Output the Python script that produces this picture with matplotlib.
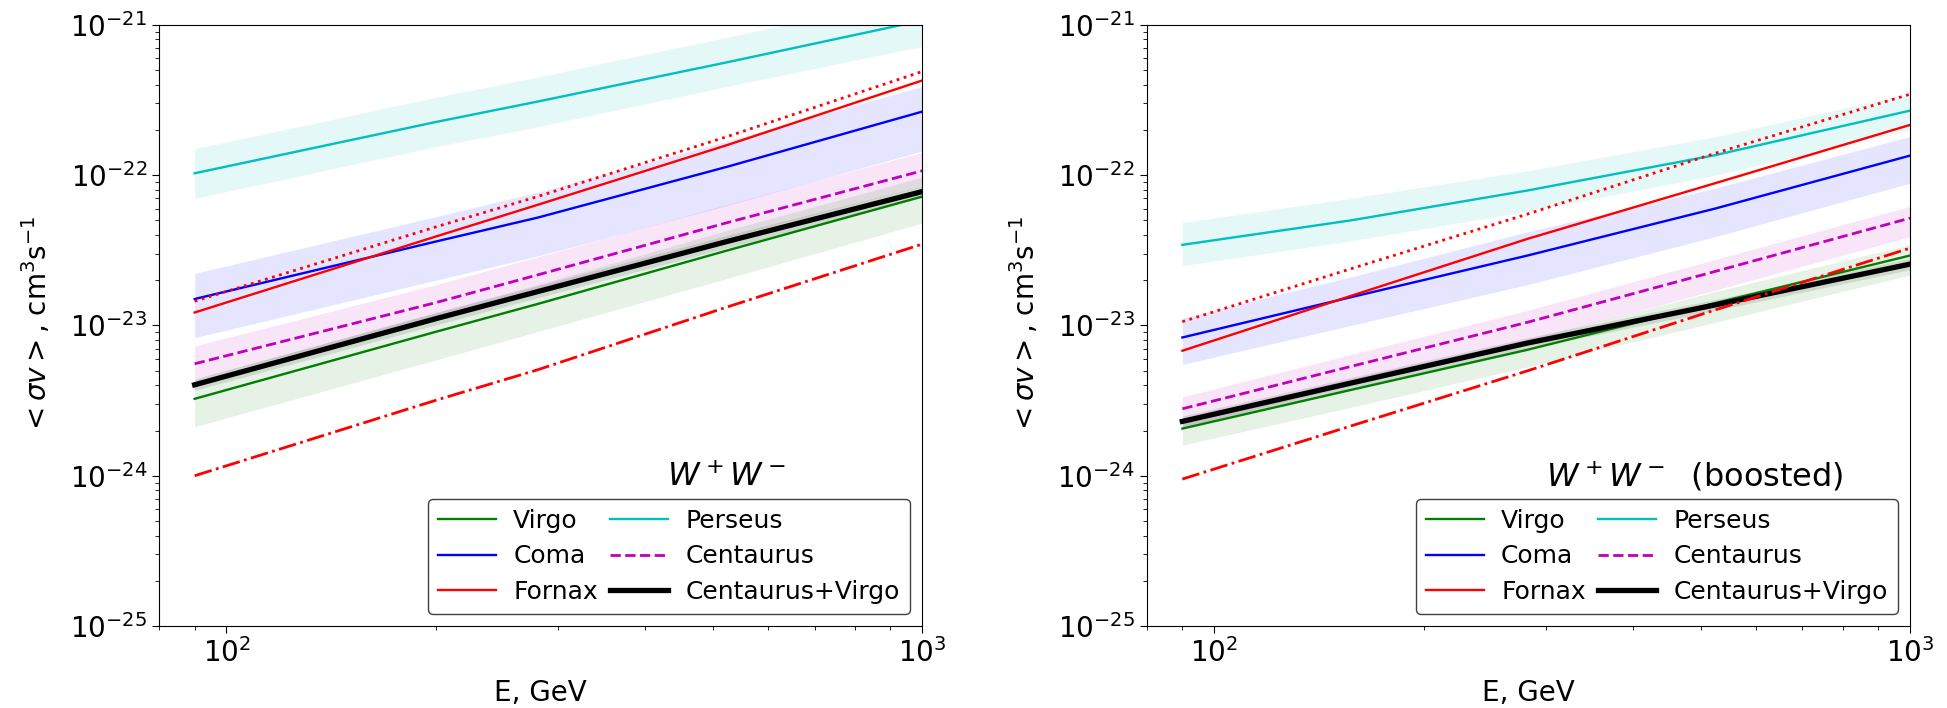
import matplotlib
matplotlib.use('Agg')
import matplotlib.pyplot as plt
from matplotlib.ticker import NullFormatter

# ---- left panel: W+W- ----
E_left = [90, 200, 280, 525, 1000]
perseus_l = [1.03e-22, 2.26e-22, 3.09e-22, 5.65e-22, 1.07e-21]
perseus_l_lo = [7.0e-23, 1.55e-22, 2.1e-22, 3.9e-22, 7.2e-22]
perseus_l_hi = [1.5e-22, 3.3e-22, 4.5e-22, 8.3e-22, 1.55e-21]
coma_l = [1.50e-23, 3.62e-23, 5.22e-23, 1.14e-22, 2.65e-22]
coma_l_lo = [8.3e-24, 2.0e-23, 2.9e-23, 6.3e-23, 1.45e-22]
coma_l_hi = [2.22e-23, 5.3e-23, 7.7e-23, 1.69e-22, 3.9e-22]
fornax_l = [1.22e-23, 3.91e-23, 6.35e-23, 1.59e-22, 4.27e-22]
fornax_dot_l = [1.45e-23, 4.53e-23, 7.21e-23, 1.81e-22, 4.9e-22]
fornax_dd_l = [1.0e-24, 3.18e-24, 5.07e-24, 1.33e-23, 3.48e-23]
cent_l = [5.56e-24, 1.42e-23, 2.17e-23, 4.84e-23, 1.07e-22]
cent_l_lo = [4.4e-24, 1.13e-23, 1.72e-23, 3.85e-23, 8.5e-23]
cent_l_hi = [7.3e-24, 1.87e-23, 2.86e-23, 6.4e-23, 1.42e-22]
virgo_l = [3.25e-24, 9.08e-24, 1.39e-23, 3.16e-23, 7.21e-23]
virgo_l_lo = [2.12e-24, 5.9e-24, 9.1e-24, 2.06e-23, 4.8e-23]
virgo_l_hi = [4.4e-24, 1.22e-23, 1.87e-23, 4.3e-23, 9.7e-23]
cv_l = [4.03e-24, 1.11e-23, 1.68e-23, 3.63e-23, 7.78e-23]
cv_l_lo = [3.7e-24, 1.01e-23, 1.53e-23, 3.3e-23, 7.1e-23]
cv_l_hi = [4.4e-24, 1.22e-23, 1.84e-23, 3.98e-23, 8.5e-23]

# ---- right panel: W+W- (boosted) ----
E_right = [90, 157, 282, 525, 1000]
perseus_r = [3.44e-23, 5.0e-23, 7.91e-23, 1.36e-22, 2.69e-22]
perseus_r_lo = [2.5e-23, 3.65e-23, 5.75e-23, 1.0e-22, 2.0e-22]
perseus_r_hi = [4.84e-23, 7.0e-23, 1.07e-22, 1.8e-22, 3.5e-22]
coma_r = [8.32e-24, 1.54e-23, 2.92e-23, 6.0e-23, 1.35e-22]
coma_r_lo = [5.5e-24, 1.0e-23, 1.87e-23, 3.9e-23, 8.85e-23]
coma_r_hi = [1.12e-23, 2.1e-23, 4.2e-23, 8.2e-23, 1.81e-22]
fornax_r = [6.79e-24, 1.57e-23, 3.77e-23, 8.85e-23, 2.16e-22]
fornax_dot_r = [1.06e-23, 2.38e-23, 5.51e-23, 1.4e-22, 3.46e-22]
fornax_dd_r = [9.5e-25, 2.14e-24, 4.99e-24, 1.27e-23, 3.27e-23]
cent_r = [2.79e-24, 5.33e-24, 1.05e-23, 2.29e-23, 5.18e-23]
cent_r_lo = [2.1e-24, 4.0e-24, 7.9e-24, 1.72e-23, 3.9e-23]
cent_r_hi = [3.35e-24, 6.4e-24, 1.26e-23, 2.75e-23, 6.2e-23]
virgo_r = [2.06e-24, 3.72e-24, 6.89e-24, 1.41e-23, 2.92e-23]
virgo_r_lo = [1.6e-24, 2.85e-24, 5.3e-24, 1.05e-23, 2.17e-23]
virgo_r_hi = [2.4e-24, 4.4e-24, 8.1e-24, 1.68e-23, 3.45e-23]
cv_r = [2.30e-24, 4.13e-24, 7.64e-24, 1.37e-23, 2.56e-23]
cv_r_lo = [2.12e-24, 3.8e-24, 7.0e-24, 1.26e-23, 2.35e-23]
cv_r_hi = [2.5e-24, 4.5e-24, 8.3e-24, 1.49e-23, 2.8e-23]


def panel(ax, E, vir, vir_lo, vir_hi, com, com_lo, com_hi, frn, frn_dot, frn_dd,
          per, per_lo, per_hi, cen, cen_lo, cen_hi, cv, cv_lo, cv_hi, title, tx):
    ax.fill_between(E, per_lo, per_hi, color='c', alpha=0.1, lw=0)
    ax.fill_between(E, com_lo, com_hi, color='b', alpha=0.1, lw=0)
    ax.fill_between(E, cen_lo, cen_hi, color='m', alpha=0.1, lw=0)
    ax.fill_between(E, vir_lo, vir_hi, color='g', alpha=0.1, lw=0)
    ax.fill_between(E, cv_lo, cv_hi, color='k', alpha=0.1, lw=0)
    ax.plot(E, vir, 'g', lw=1.7, label='Virgo')
    ax.plot(E, com, 'b', lw=1.7, label='Coma')
    ax.plot(E, frn, 'r', lw=1.7, label='Fornax')
    ax.plot(E, per, 'c', lw=1.7, label='Perseus')
    ax.plot(E, cen, 'm--', lw=2, label='Centaurus')
    ax.plot(E, cv, 'k', lw=3.8, label='Centaurus+Virgo')
    ax.plot(E, frn_dot, 'r:', lw=2)
    ax.plot(E, frn_dd, 'r-.', lw=2)
    ax.set_xscale('log')
    ax.set_yscale('log')
    ax.set_xlim(80, 1000)
    ax.set_ylim(1e-25, 1e-21)
    ax.xaxis.set_minor_formatter(NullFormatter())
    ax.tick_params(labelsize=20)
    ax.tick_params(which='major', length=5)
    ax.tick_params(which='minor', length=3)
    ax.set_xlabel('E, GeV', fontsize=20, labelpad=8)
    ax.set_ylabel(r'$<\sigma v>$, cm$^3$s$^{-1}$', fontsize=20, labelpad=12)
    ax.text(tx, 8.5e-25, title, fontsize=23)
    leg = ax.legend(loc='lower right', ncol=2, fontsize=18, columnspacing=0.5,
                    handlelength=2.3, handletextpad=0.7, labelspacing=0.45,
                    framealpha=1)
    leg.get_frame().set_edgecolor('0.25')


fig = plt.figure(figsize=(19.47, 7.08), dpi=100)
ax1 = fig.add_axes([0.0817, 0.1158, 0.392, 0.849])
ax2 = fig.add_axes([0.589, 0.1158, 0.392, 0.849])

panel(ax1, E_left, virgo_l, virgo_l_lo, virgo_l_hi, coma_l, coma_l_lo, coma_l_hi,
      fornax_l, fornax_dot_l, fornax_dd_l, perseus_l, perseus_l_lo, perseus_l_hi,
      cent_l, cent_l_lo, cent_l_hi, cv_l, cv_l_lo, cv_l_hi, r'$W^+W^-$', 430)
panel(ax2, E_right, virgo_r, virgo_r_lo, virgo_r_hi, coma_r, coma_r_lo, coma_r_hi,
      fornax_r, fornax_dot_r, fornax_dd_r, perseus_r, perseus_r_lo, perseus_r_hi,
      cent_r, cent_r_lo, cent_r_hi, cv_r, cv_r_lo, cv_r_hi, r'$W^+W^-$  (boosted)', 300)

fig.savefig('out.png', dpi=100)
